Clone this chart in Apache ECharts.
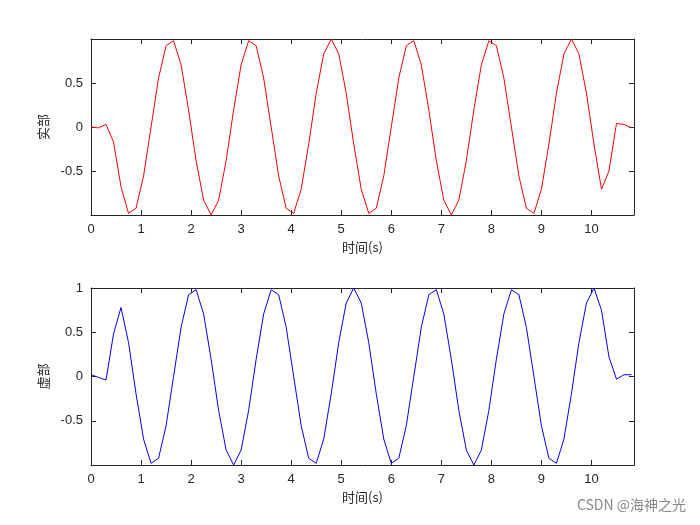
<!DOCTYPE html>
<html><head><meta charset="utf-8">
<script src="https://cdn.jsdelivr.net/npm/echarts@6/dist/echarts.min.js"></script>
<style>html,body{margin:0;padding:0;background:#fff}#c{width:700px;height:525px}</style>
</head><body><div id="c"></div>
<script>
const dt = 0.15;
const realPart = [0,-0.01,0.03,-0.17,-0.68,
-0.981,-0.924,-0.556,0,0.556,0.924,0.981,0.707,0.195,-0.383,-0.831,-1,-0.831,-0.383,0.195,0.707,0.981,0.924,0.556,0,-0.556,-0.924,-0.981,-0.707,-0.195,0.383,0.831,
1,0.831,0.383,-0.195,-0.707,-0.981,-0.924,-0.556,0,0.556,0.924,0.981,0.707,0.195,-0.383,-0.831,-1,-0.831,-0.383,0.195,0.707,0.981,0.924,0.556,0,-0.556,-0.924,-0.981,-0.707,-0.195,0.383,0.831,
1,0.831,0.383,-0.195,-0.707,-0.5,0.04,0.03,-0.01];
const imagPart = [0.02,-0.01,-0.04,0.48,0.78,
0.383,-0.195,-0.707,-0.981,-0.924,-0.556,0,0.556,0.924,0.981,0.707,0.195,-0.383,-0.831,-1,-0.831,-0.383,0.195,0.707,0.981,0.924,0.556,0,-0.556,-0.924,-0.981,-0.707,-0.195,0.383,0.831,
1,0.831,0.383,-0.195,-0.707,-0.981,-0.924,-0.556,0,0.556,0.924,0.981,0.707,0.195,-0.383,-0.831,-1,-0.831,-0.383,0.195,0.707,0.981,0.924,0.556,0,-0.556,-0.924,-0.981,-0.707,-0.195,0.383,0.831,
1,0.75,0.22,-0.03,0.02,0.02];
const xTicks = [0,1,2,3,4,5,6,7,8,9,10];
const yTicks = [-0.5,0,0.5,1];
const xName = '时间(s)';
const yNames = ['实部','虚部'];

const pairs = a => a.map((v,i)=>[+(i*dt).toFixed(2), v]);
const tf = 'Liberation Sans';
const grids = [{left:91,right:66,top:39,height:176},{left:91,right:66,top:288,height:177}];
const xAxis=[], yAxis=[];
grids.forEach((g,i)=>{
  xAxis.push({type:'value',gridIndex:i,min:0,max:10.85,interval:1,name:xName,nameLocation:'middle',nameGap:26,
    nameTextStyle:{fontFamily:'Noto Sans CJK SC',fontSize:13,color:'#262626'},
    axisLine:{onZero:false,lineStyle:{color:'#262626'}},axisTick:{inside:true,length:5,lineStyle:{color:'#262626'}},
    axisLabel:{showMaxLabel:false,fontFamily:tf,fontSize:13,color:'#262626',margin:8,formatter:v=>xTicks.includes(v)?String(v):''},splitLine:{show:false}});
  xAxis.push({type:'value',gridIndex:i,position:'top',min:0,max:10.85,interval:1,axisLine:{onZero:false,lineStyle:{color:'#262626'}},
    axisTick:{inside:true,length:5,lineStyle:{color:'#262626'}},axisLabel:{show:false},splitLine:{show:false}});
  yAxis.push({type:'value',gridIndex:i,min:-1,max:1,interval:0.5,name:yNames[i],nameLocation:'middle',nameGap:38,
    nameTextStyle:{fontFamily:'Noto Sans CJK SC',fontSize:13,color:'#262626'},
    axisLine:{onZero:false,lineStyle:{color:'#262626'}},axisTick:{inside:true,length:5,lineStyle:{color:'#262626'}},
    axisLabel:{showMinLabel:false,showMaxLabel:i===1,fontFamily:tf,fontSize:13,color:'#262626',formatter:v=>yTicks.includes(v)?String(v):''},splitLine:{show:false}});
  yAxis.push({type:'value',gridIndex:i,position:'right',min:-1,max:1,interval:0.5,axisLine:{onZero:false,lineStyle:{color:'#262626'}},
    axisTick:{inside:true,length:5,lineStyle:{color:'#262626'}},axisLabel:{show:false},splitLine:{show:false}});
});
const chart = echarts.init(document.getElementById('c'));
chart.setOption({
  animation:false,backgroundColor:'#fff',
  grid:grids, xAxis, yAxis,
  series:[
    {type:'line',xAxisIndex:0,yAxisIndex:0,data:pairs(realPart),showSymbol:false,lineStyle:{color:'#ff0000',width:1}},
    {type:'line',xAxisIndex:2,yAxisIndex:2,data:pairs(imagPart),showSymbol:false,lineStyle:{color:'#0000ff',width:1}}
  ],
  graphic:[{type:'text',right:14,top:498,style:{text:'CSDN @海神之光',fontFamily:'Noto Sans CJK SC',fontSize:14,fill:'#8a8a8a'}}]
});
</script></body></html>
